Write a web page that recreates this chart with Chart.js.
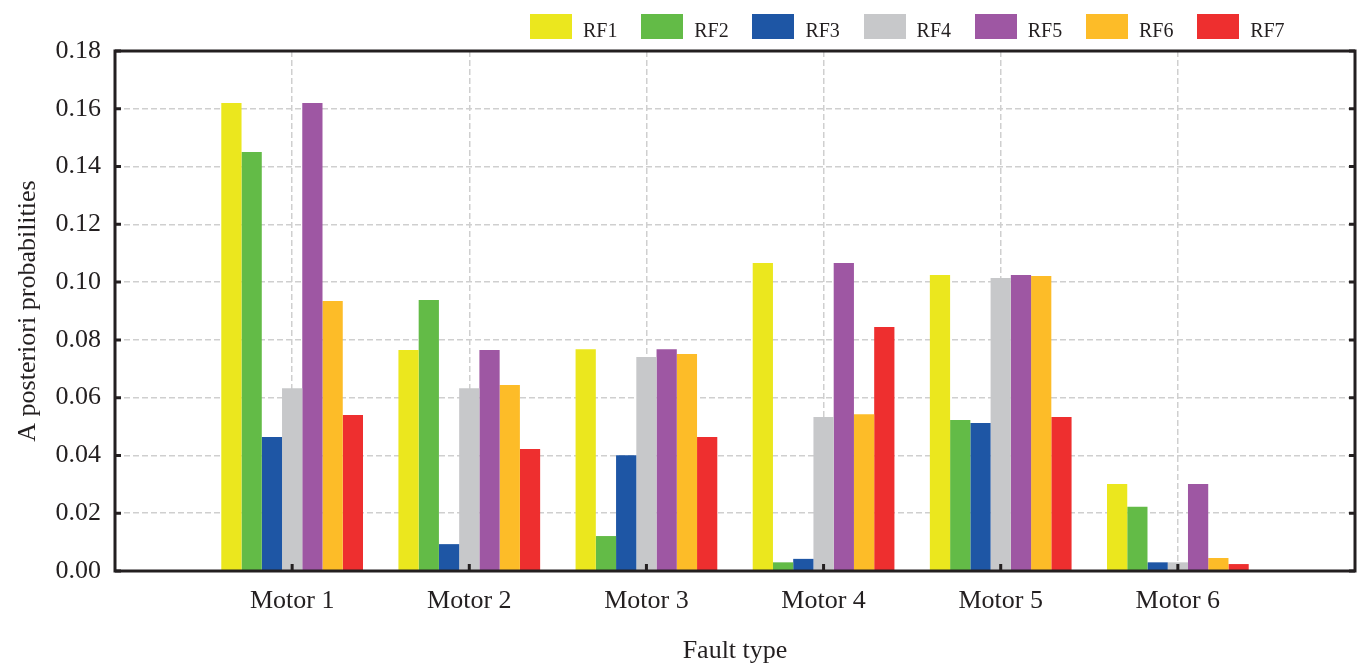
<!DOCTYPE html>
<html>
<head>
<meta charset="utf-8">
<script src="https://cdn.jsdelivr.net/npm/chart.js@4/dist/chart.umd.min.js"></script>
<style>
  html, body { margin: 0; padding: 0; background: #fff; overflow: hidden; }
  #wrap { position: relative; width: 1370px; height: 666px; }
  #legend { position: absolute; top: 14px; left: 530px; display: flex; font-family: "Liberation Serif", "DejaVu Serif", serif; font-size: 20px; color: #231f20; }
  .item { display: flex; align-items: center; width: 111.2px; height: 25px; }
  .box { width: 42px; height: 25px; margin-right: 11px; }
  .label { line-height: 25px; padding-top: 7px; }
</style>
</head>
<body>
<div id="wrap">
  <canvas id="chart"></canvas>
  <div id="legend"></div>
</div>
<script>
// categories on the x axis
const categories = ["Motor 1", "Motor 2", "Motor 3", "Motor 4", "Motor 5", "Motor 6"];

// a posteriori probabilities per RF, one value per motor
const rf1 = [0.162, 0.0765, 0.0768, 0.1066, 0.1025, 0.0301];
const rf2 = [0.145, 0.0938, 0.0121, 0.0030, 0.0523, 0.0222];
const rf3 = [0.0464, 0.0093, 0.0401, 0.0042, 0.0512, 0.0030];
const rf4 = [0.0633, 0.0633, 0.0741, 0.0533, 0.1014, 0.0030];
const rf5 = [0.162, 0.0765, 0.0768, 0.1066, 0.1025, 0.0301];
const rf6 = [0.0935, 0.0644, 0.0751, 0.0543, 0.1021, 0.0045];
const rf7 = [0.0540, 0.0422, 0.0464, 0.0845, 0.0533, 0.0024];

const seriesNames = ["RF1", "RF2", "RF3", "RF4", "RF5", "RF6", "RF7"];
const seriesValues = [rf1, rf2, rf3, rf4, rf5, rf6, rf7];
const seriesColors = ["#ebe71e", "#63bb47", "#1e56a5", "#c7c8ca", "#9e57a3", "#fdbc28", "#ee2f2f"];

// y axis ticks
const yMin = 0;
const yMax = 0.18;
const yStep = 0.02;

const ink = "#231f20";
const serif = "'Liberation Serif', 'DejaVu Serif', serif";
const gridColor = "#cfcfcf";

// empty slot at each end so the motors sit at 1..6 on a 0..7 axis
const labels = ["", ...categories, ""];

const datasets = seriesNames.map((name, i) => ({
  label: name,
  data: [null, ...seriesValues[i], null],
  backgroundColor: seriesColors[i],
  borderWidth: 0,
  categoryPercentage: 0.8,
  barPercentage: 1.0
}));

// frame around the plot and inward tick marks
const framePlugin = {
  id: "frame",
  afterDatasetsDraw(chart) {
    const { ctx, chartArea: a, scales } = chart;
    ctx.save();
    ctx.strokeStyle = ink;
    ctx.lineWidth = 3;
    ctx.strokeRect(a.left, a.top, a.right - a.left, a.bottom - a.top);

    ctx.beginPath();
    scales.y.ticks.forEach(t => {
      const y = scales.y.getPixelForValue(t.value);
      ctx.moveTo(a.left, y);
      ctx.lineTo(a.left + 6, y);
      ctx.moveTo(a.right, y);
      ctx.lineTo(a.right - 6, y);
    });
    for (let i = 1; i <= categories.length; i++) {
      const x = scales.x.getPixelForValue(i);
      ctx.moveTo(x, a.bottom);
      ctx.lineTo(x, a.bottom - 7);
    }
    ctx.stroke();
    ctx.restore();
  }
};

const chart = new Chart(document.getElementById("chart"), {
  type: "bar",
  data: { labels: labels, datasets: datasets },
  options: {
    responsive: true,
    maintainAspectRatio: false,
    animation: false,
    layout: { padding: { top: 51, right: 11, left: 0, bottom: 0 } },
    plugins: {
      legend: { display: false },
      tooltip: { enabled: false }
    },
    scales: {
      x: {
        offset: false,
        grid: {
          offset: false,
          drawTicks: false,
          lineWidth: 1.5,
          color: ctx => (ctx.index === 0 || ctx.index === labels.length - 1) ? "rgba(0,0,0,0)" : gridColor
        },
        border: { display: false, dash: [6, 3] },
        ticks: {
          color: ink,
          padding: 15,
          maxRotation: 0,
          autoSkip: false,
          font: { family: serif, size: 26 }
        },
        title: {
          display: true,
          text: "Fault type",
          color: ink,
          padding: { top: 0, bottom: 2 },
          font: { family: serif, size: 26, lineHeight: 1.0 }
        },
        afterFit: scale => { scale.height = 95; }
      },
      y: {
        min: yMin,
        max: yMax,
        grid: {
          drawTicks: false,
          lineWidth: 1.5,
          color: ctx => (ctx.tick.value <= yMin + 1e-9 || ctx.tick.value >= yMax - 1e-9) ? "rgba(0,0,0,0)" : gridColor
        },
        border: { display: false, dash: [6, 3] },
        ticks: {
          stepSize: yStep,
          color: ink,
          padding: 14,
          font: { family: serif, size: 26 },
          callback: v => Number(v).toFixed(2)
        },
        title: {
          display: true,
          text: "A posteriori probabilities",
          color: ink,
          padding: { top: 13, bottom: 0 },
          font: { family: serif, size: 26 }
        },
        afterFit: scale => { scale.width = 115; }
      }
    }
  },
  plugins: [framePlugin]
});

// html legend built from the chart's datasets
const legendEl = document.getElementById("legend");
chart.data.datasets.forEach(ds => {
  const item = document.createElement("div");
  item.className = "item";
  item.innerHTML = `<span class="box" style="background:${ds.backgroundColor}"></span><span class="label">${ds.label}</span>`;
  legendEl.appendChild(item);
});
</script>
</body>
</html>
